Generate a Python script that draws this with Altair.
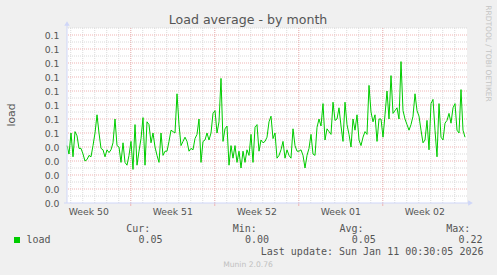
import altair as alt
import pandas as pd

# ---------------- text ----------------
TITLE = "Load average - by month"
Y_TITLE = "load"
SIDE_TEXT = "RRDTOOL / TOBI OETIKER"
FOOTER = "Munin 2.0.76"
LAST_UPDATE = "Last update: Sun Jan 11 00:30:05 2026"
SERIES_NAME = "load"
STAT_HEADERS = ["Cur:", "Min:", "Avg:", "Max:"]
STAT_VALUES = ["0.05", "0.00", "0.05", "0.22"]

# ---------------- axes (hours since left edge of graph, 2 h per pixel) ----------------
X_DOMAIN = [0, 800]
WEEK_LABELS = ["Week 50", "Week 51", "Week 52", "Week 01", "Week 02"]
WEEK_LABEL_HOURS = [43.5, 211.5, 379.5, 547.5, 715.5]
WEEK_LINE_HOURS = [127.5, 295.5, 463.5, 631.5]
DAY_LINE_HOURS = [7.5 + 24 * k for k in range(33)]
Y_DOMAIN = [0, 0.125]
Y_TICKS = [0.00, 0.01, 0.02, 0.03, 0.04, 0.05, 0.06, 0.07, 0.08, 0.09, 0.10, 0.11, 0.12]
Y_MINOR = [0.005, 0.015, 0.025, 0.035, 0.045, 0.055, 0.065, 0.075, 0.085, 0.095, 0.105, 0.115, 0.125]

# ---------------- series (one value every 4 hours) ----------------
STEP_HOURS = 4
load = [
    0.041, 0.035, 0.050, 0.033, 0.051, 0.048, 0.039, 0.039, 0.035, 0.030, 0.031, 0.034, 0.033, 0.041, 0.050,
    0.063, 0.050, 0.039, 0.038, 0.033, 0.038, 0.036, 0.038, 0.043, 0.060, 0.041, 0.040, 0.029, 0.043,
    0.029, 0.027, 0.034, 0.044, 0.024, 0.056, 0.027, 0.037, 0.046, 0.061, 0.027, 0.058, 0.056, 0.043, 0.050,
    0.040, 0.034, 0.029, 0.050, 0.034, 0.037, 0.037, 0.044, 0.052, 0.051, 0.050, 0.078, 0.056, 0.041,
    0.044, 0.047, 0.044, 0.037, 0.039, 0.038, 0.046, 0.049, 0.060, 0.029, 0.044, 0.045, 0.050, 0.045, 0.050,
    0.064, 0.066, 0.050, 0.058, 0.089, 0.044, 0.053, 0.055, 0.027, 0.041, 0.032, 0.041, 0.029, 0.037,
    0.025, 0.037, 0.029, 0.038, 0.034, 0.049, 0.029, 0.054, 0.056, 0.037, 0.045, 0.043, 0.044, 0.047, 0.058,
    0.062, 0.046, 0.050, 0.032, 0.034, 0.038, 0.044, 0.032, 0.038, 0.034, 0.032, 0.053, 0.041, 0.037,
    0.037, 0.038, 0.034, 0.025, 0.034, 0.039, 0.049, 0.035, 0.034, 0.054, 0.060, 0.055, 0.071, 0.045, 0.053,
    0.051, 0.049, 0.072, 0.059, 0.060, 0.068, 0.055, 0.044, 0.072, 0.056, 0.049, 0.040, 0.060, 0.052,
    0.063, 0.045, 0.041, 0.047, 0.051, 0.049, 0.084, 0.065, 0.058, 0.063, 0.044, 0.060, 0.060, 0.047, 0.063,
    0.080, 0.060, 0.091, 0.064, 0.066, 0.068, 0.060, 0.101, 0.066, 0.060, 0.056, 0.052, 0.056, 0.062,
    0.078, 0.066, 0.062, 0.052, 0.043, 0.045, 0.059, 0.038, 0.071, 0.074, 0.052, 0.033, 0.071, 0.047, 0.045,
    0.057, 0.059, 0.064, 0.057, 0.068, 0.071, 0.052, 0.050, 0.081, 0.052, 0.047,
]

# ---------------- style ----------------
FONT = "DejaVu Sans"
MONO = "DejaVu Sans Mono"
TEXT_COLOR = "#555555"
AXIS_COLOR = "#CFD6F8"
GRID_COLOR = "#dadada"
MGRID_COLOR = "#efb4b4"
LINE_COLOR = "#00CC00"

W, H = 400, 175
xs = alt.Scale(domain=X_DOMAIN, nice=False, zero=False)
ys = alt.Scale(domain=Y_DOMAIN, nice=False, zero=False)
Y_AXIS = alt.Axis(
    values=Y_TICKS, format=".1f", grid=False, ticks=False, domain=False,
    labelFont=FONT, labelFontSize=9.3, labelColor=TEXT_COLOR, labelPadding=8, title=None,
)

series = pd.DataFrame({"h": [STEP_HOURS * i for i in range(len(load))], "v": load})


def vrules(values, color):
    return alt.Chart(pd.DataFrame({"h": values})).mark_rule(
        color=color, strokeWidth=1, strokeDash=[1, 1]
    ).encode(x=alt.X("h:Q", scale=xs, axis=None))


def hrules(values, color):
    return alt.Chart(pd.DataFrame({"v": values})).mark_rule(
        color=color, strokeWidth=1, strokeDash=[1, 1]
    ).encode(y=alt.Y("v:Q", scale=ys, axis=Y_AXIS))


def label(text, x, y, size=10, font=MONO, color=TEXT_COLOR, align="left", angle=0, baseline="alphabetic"):
    return alt.Chart(pd.DataFrame({"t": [text]})).mark_text(
        font=font, fontSize=size, color=color, align=align, baseline=baseline, angle=angle
    ).encode(text="t:N", x=alt.value(x), y=alt.value(y))


layers = [
    vrules(DAY_LINE_HOURS, GRID_COLOR),
    hrules(Y_MINOR, GRID_COLOR),
    vrules(WEEK_LINE_HOURS, MGRID_COLOR),
    hrules(Y_TICKS[1:], MGRID_COLOR),
]

# line
layers.append(
    alt.Chart(series).mark_line(color=LINE_COLOR, strokeWidth=1, interpolate="linear").encode(
        x=alt.X("h:Q", scale=xs, axis=None),
        y=alt.Y("v:Q", scale=ys, axis=Y_AXIS),
    )
)

# week tick marks below x axis
layers.append(
    alt.Chart(pd.DataFrame({"h": WEEK_LINE_HOURS})).mark_rule(color=MGRID_COLOR, strokeWidth=1).encode(
        x=alt.X("h:Q", scale=xs, axis=None), y=alt.value(H), y2=alt.value(H + 3)
    )
)

# axis lines and arrows
axis_df = pd.DataFrame({"a": [0]})
layers.append(alt.Chart(axis_df).mark_rule(color=AXIS_COLOR, strokeWidth=1).encode(
    x=alt.value(0), y=alt.value(-5), y2=alt.value(H)))
layers.append(alt.Chart(axis_df).mark_rule(color=AXIS_COLOR, strokeWidth=1).encode(
    x=alt.value(-3), x2=alt.value(W + 2), y=alt.value(H)))
layers.append(alt.Chart(axis_df).mark_point(shape="triangle-up", filled=True, color=AXIS_COLOR, opacity=1, size=30).encode(
    x=alt.value(0), y=alt.value(-4.5)))
layers.append(alt.Chart(axis_df).mark_point(shape="triangle-right", filled=True, color=AXIS_COLOR, opacity=1, size=30).encode(
    x=alt.value(W + 3.5), y=alt.value(H)))

# week labels
layers.append(
    alt.Chart(pd.DataFrame({"h": WEEK_LABEL_HOURS, "t": WEEK_LABELS})).mark_text(
        font=FONT, fontSize=9.3, color=TEXT_COLOR, align="center", baseline="alphabetic"
    ).encode(x=alt.X("h:Q", scale=xs, axis=None), y=alt.value(H + 12), text="t:N")
)

# titles
layers.append(label(TITLE, 181, -4, size=12.6, font=FONT, align="center"))
layers.append(label(Y_TITLE, -52, 87, size=10.8, font=FONT, align="center", angle=270))
layers.append(label(SIDE_TEXT, 418.5, 25.5, size=7.5, font=FONT, color="#c4c4c4", align="center", angle=90))

# legend
layers.append(alt.Chart(axis_df).mark_square(color=LINE_COLOR, opacity=1, size=36).encode(
    x=alt.value(-50), y=alt.value(212)))
layers.append(label(SERIES_NAME, -40.5, 215))
header_x = [59.2, 165.8, 272.5, 379.2]
value_x = [71.4, 178.0, 284.7, 391.4]
for t, x in zip(STAT_HEADERS, header_x):
    layers.append(label(t, x, 203.5))
for t, x in zip(STAT_VALUES, value_x):
    layers.append(label(t, x, 215))
layers.append(label(LAST_UPDATE, 416.5, 226.5, align="right"))
layers.append(label(FOOTER, 181, 239, size=7.6, font=FONT, color="#c0c0c0", align="center"))

chart = alt.layer(*layers).properties(
    width=W,
    height=H,
    background="#f0f0f0",
    padding={"left": 67, "top": 28, "right": 30, "bottom": 72},
    autosize=alt.AutoSizeParams(type="none"),
).configure_view(stroke=None, fill="white")

chart.save("out.html", embed_options={"renderer": "svg", "actions": False})
